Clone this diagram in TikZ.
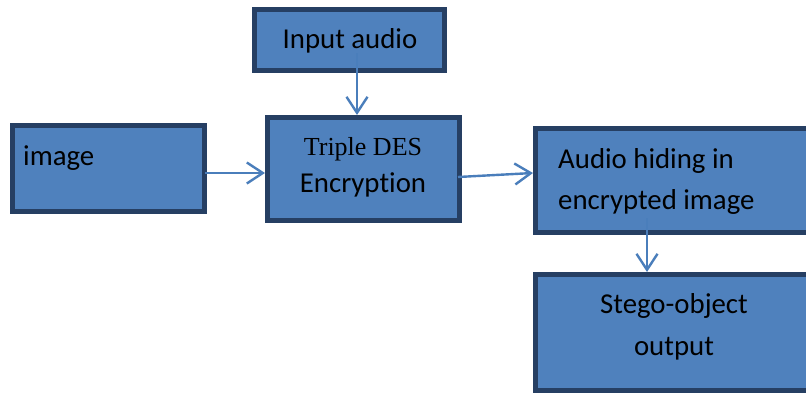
\documentclass[tikz,border=0pt]{standalone}
\usepackage{fontspec}
\setmainfont[Ligatures={NoCommon}]{Carlito}
\newfontfamily\tnrfont{Liberation Serif}
\usetikzlibrary{arrows.meta,calc}
\definecolor{boxfill}{HTML}{4F81BD}
\definecolor{boxborder}{HTML}{263F63}
\definecolor{arrowblue}{HTML}{4A7EBB}
\tikzset{
  box/.style={draw=boxborder, fill=boxfill, line width=5pt, inner sep=0pt, rectangle},
  lbl/.style={inner sep=0pt, font=\fontsize{28.8}{41}\selectfont, text=black},
  serlbl/.style={inner sep=0pt, font=\fontsize{26}{37}\selectfont\tnrfont, text=black},
  arr/.style={draw=arrowblue, line width=2.4pt, -{Straight Barb[length=16pt,width=21pt,line width=2.4pt]}}
}
\begin{document}
\begin{tikzpicture}[x=1pt,y=-1pt]
\useasboundingbox (0,0) rectangle (806,394);
\fill[white] (0,0) rectangle (806,394);
% boxes
\node[box, minimum width=190pt, minimum height=61pt] (audio) at (349.5,40) {};
\node[box, minimum width=192pt, minimum height=86pt] (img) at (108.5,168.5) {};
\node[box, minimum width=192pt, minimum height=103pt] (des) at (363.5,169) {};
\node[box, minimum width=285pt, minimum height=104pt] (hide) at (678,180.5) {};
\node[box, minimum width=285pt, minimum height=116pt] (stego) at (678,332.5) {};
% texts
\node[lbl, anchor=base] (taudio) at (350,48) {Input audio};
\node[lbl, anchor=base west] (timg) at (23,165) {image};
\node[serlbl, anchor=base] (tdes1) at (363,155) {Triple DES};
\node[lbl, anchor=base] (tdes2) at (363,192) {Encryption};
\node[lbl, anchor=base west] (thide1) at (558,168) {Audio hiding in};
\node[lbl, anchor=base west] (thide2) at (558,209) {encrypted image};
\node[lbl, anchor=base] (tstego1) at (674,313) {Stego-object};
\node[lbl, anchor=base] (tstego2) at (674,355) {output};
% connector start points
\coordinate (s1) at (357,53);
\coordinate (s2) at (205,173);
\coordinate (s3) at (458,177);
\coordinate (s4) at (647,218);
% connectors
\draw[arr] (s1) -- (s1 |- des.north);
\draw[arr] (s2) -- (s2 -| des.west);
\draw[arr] (s3) -- ($(hide.west |- s3)+(0,-4)$);
\draw[arr] (s4) -- (s4 |- stego.north);
\end{tikzpicture}
\end{document}
